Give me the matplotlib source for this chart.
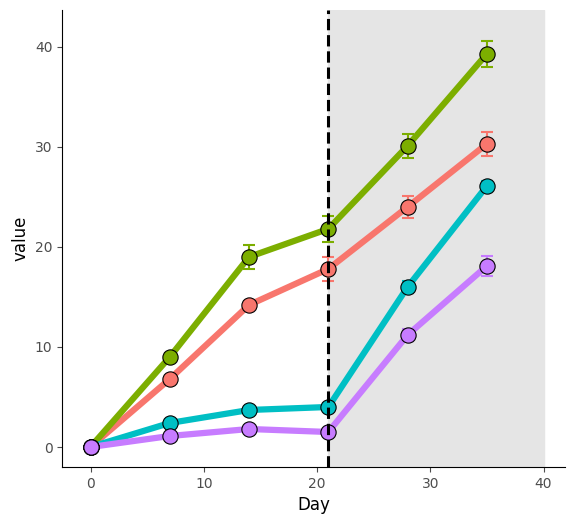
import matplotlib.pyplot as plt
import numpy as np

days = [0, 7, 14, 21, 28, 35]
red = [0, 6.8, 14.2, 17.8, 24.0, 30.3]
red_err = [0, 0.3, 0.4, 1.2, 1.1, 1.2]
green = [0, 9.0, 19.0, 21.8, 30.1, 39.3]
green_err = [0, 0.4, 1.2, 1.3, 1.2, 1.3]
cyan = [0, 2.4, 3.7, 4.0, 16.0, 26.1]
cyan_err = [0, 0.3, 0.3, 0.4, 0.6, 0.5]
purple = [0, 1.1, 1.8, 1.5, 11.2, 18.1]
purple_err = [0, 0.2, 0.3, 0.3, 0.6, 1.0]

series = [(red, red_err, '#F8766D'), (green, green_err, '#7CAE00'),
          (cyan, cyan_err, '#00BFC4'), (purple, purple_err, '#C77CFF')]

fig = plt.figure(figsize=(5.76, 5.28), dpi=100)
ax = fig.add_axes([0.108, 0.1155, 0.873, 0.866])
ax.axvspan(21, 40, color='#E5E5E5', zorder=0)
for vals, err, col in series:
    ax.errorbar(days, vals, yerr=err, color=col, lw=4.5, capsize=4, elinewidth=1.5,
                capthick=1.5, zorder=2)
    ax.plot(days, vals, 'o', ms=11, mfc=col, mec='black', mew=0.8, zorder=3)
ax.axvline(21, color='black', ls='--', lw=2.2, zorder=4)

ax.set_xlim(-2.5, 41.9)
ax.set_ylim(-2, 43.7)
ax.set_xticks([0, 10, 20, 30, 40])
ax.set_yticks([0, 10, 20, 30, 40])
ax.set_xlabel('Day', fontsize=12)
ax.set_ylabel('value', fontsize=12)
ax.tick_params(labelsize=10, colors='#4D4D4D', labelcolor='#4D4D4D')
for s in ['top', 'right']:
    ax.spines[s].set_visible(False)
fig.savefig('out.png')
